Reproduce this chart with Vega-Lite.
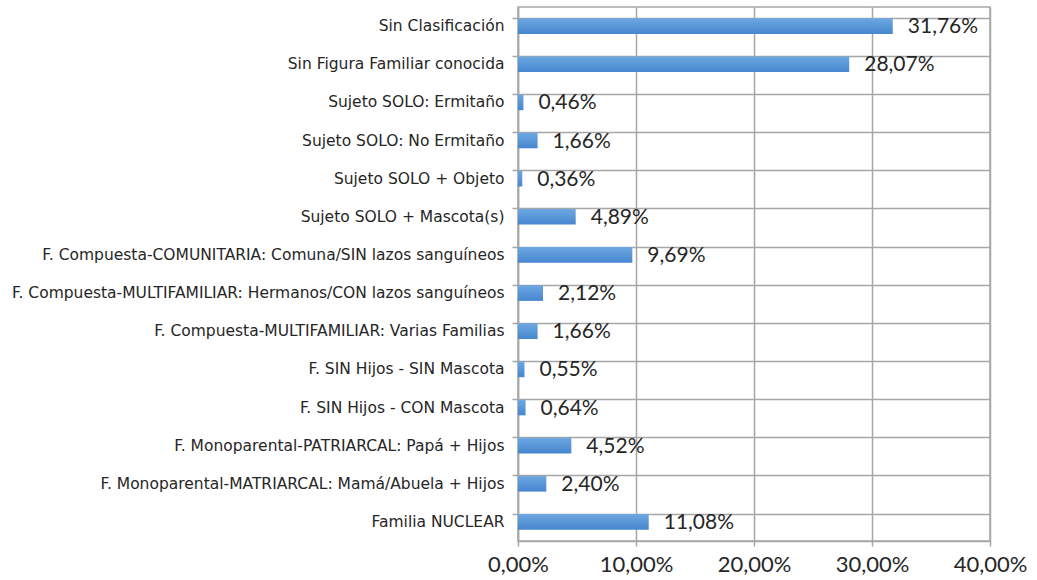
{
  "$schema": "https://vega.github.io/schema/vega-lite/v6.json",
  "autosize": "none",
  "padding": {"left": 518, "top": 7, "right": 47, "bottom": 39},
  "width": 472,
  "height": 534,
  "background": "white",
  "data": {
    "values": [
      {"cat": "Sin Clasificación", "pct": 0.3176, "label": "31,76%"},
      {"cat": "Sin Figura Familiar conocida", "pct": 0.2807, "label": "28,07%"},
      {"cat": "Sujeto SOLO: Ermitaño", "pct": 0.0046, "label": "0,46%"},
      {"cat": "Sujeto SOLO: No Ermitaño", "pct": 0.0166, "label": "1,66%"},
      {"cat": "Sujeto SOLO + Objeto", "pct": 0.0036, "label": "0,36%"},
      {"cat": "Sujeto SOLO + Mascota(s)", "pct": 0.0489, "label": "4,89%"},
      {"cat": "F. Compuesta-COMUNITARIA: Comuna/SIN lazos sanguíneos", "pct": 0.0969, "label": "9,69%"},
      {"cat": "F. Compuesta-MULTIFAMILIAR: Hermanos/CON lazos sanguíneos", "pct": 0.0212, "label": "2,12%"},
      {"cat": "F. Compuesta-MULTIFAMILIAR: Varias Familias", "pct": 0.0166, "label": "1,66%"},
      {"cat": "F. SIN Hijos - SIN Mascota", "pct": 0.0055, "label": "0,55%"},
      {"cat": "F. SIN Hijos - CON Mascota", "pct": 0.0064, "label": "0,64%"},
      {"cat": "F. Monoparental-PATRIARCAL: Papá + Hijos", "pct": 0.0452, "label": "4,52%"},
      {"cat": "F. Monoparental-MATRIARCAL: Mamá/Abuela + Hijos", "pct": 0.024, "label": "2,40%"},
      {"cat": "Familia NUCLEAR", "pct": 0.1108, "label": "11,08%"}
    ]
  },
  "config": {
    "view": {"stroke": "#a6a6a6", "strokeWidth": 1.5},
    "axis": {"domainColor": "#a6a6a6", "tickColor": "#a6a6a6", "gridColor": "#a6a6a6", "gridWidth": 1.5, "domainWidth": 1.5, "tickWidth": 1.5, "labelColor": "#262626"}
  },
  "encoding": {
    "y": {
      "field": "cat", "type": "nominal", "sort": null,
      "scale": {"paddingInner": 0.59, "paddingOuter": 0.295},
      "axis": {"title": null, "bandPosition": 0, "grid": true, "ticks": true, "tickSize": 6, "labelPadding": 8, "labelFont": "DejaVu Sans", "labelFontSize": 15.5, "labelLimit": 520, "domain": true}
    }
  },
  "layer": [
    {
      "mark": {"type": "bar", "fill": {"gradient": "linear", "x1": 0, "y1": 0, "x2": 0, "y2": 1, "stops": [{"offset": 0, "color": "#6ea8e2"}, {"offset": 1, "color": "#4586cf"}]}},
      "encoding": {
        "x": {
          "field": "pct", "type": "quantitative",
          "scale": {"domain": [0, 0.4], "nice": false},
          "axis": {"title": null, "values": [0, 0.1, 0.2, 0.3, 0.4], "labelExpr": "replace(format(datum.value*100, '.2f'), '.', ',') + '%'", "grid": true, "tickSize": 5, "labelPadding": 8, "labelFont": "Lato", "labelFontSize": 22, "labelFlush": false}
        }
      }
    },
    {
      "mark": {"type": "text", "align": "left", "baseline": "middle", "dx": 15, "dy": 1, "font": "Lato", "fontSize": 21, "color": "#262626"},
      "encoding": {
        "x": {"field": "pct", "type": "quantitative"},
        "text": {"field": "label"}
      }
    }
  ]
}
